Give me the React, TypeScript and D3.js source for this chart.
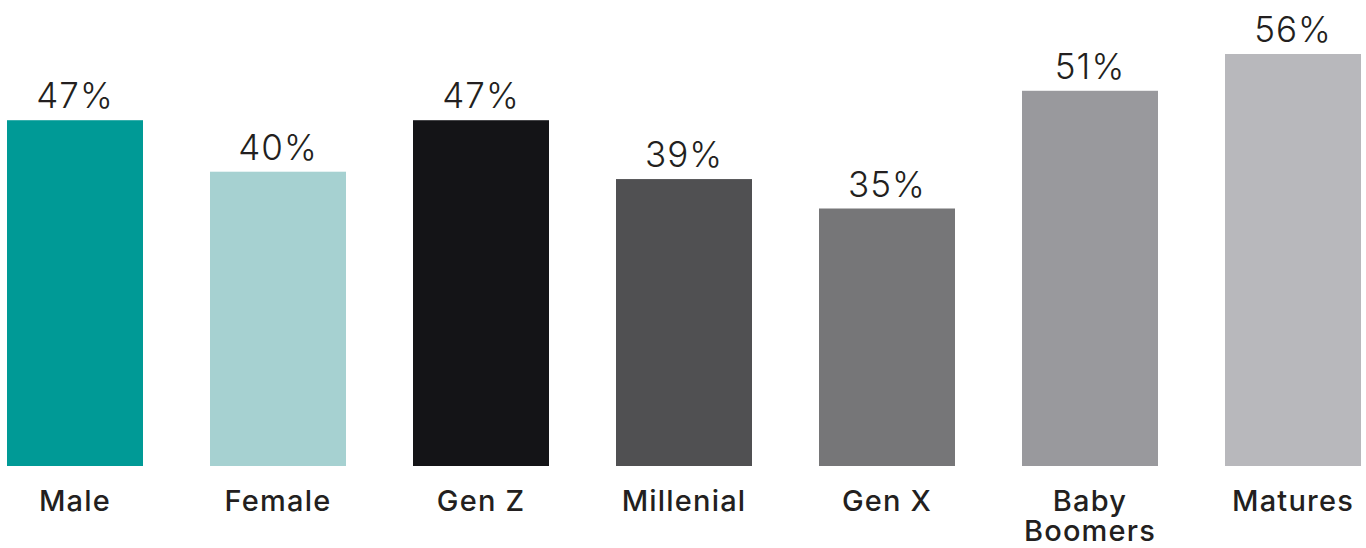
import React from "react";
import * as d3 from "d3";

const categories = ["Male", "Female", "Gen Z", "Millenial", "Gen X", "Baby Boomers", "Matures"];
const values = [47, 40, 47, 39, 35, 51, 56];
const colors = ["#009a96", "#a6d1d1", "#141417", "#505052", "#767678", "#99999d", "#b8b8bc"];
const labelLines = [["Male"], ["Female"], ["Gen Z"], ["Millenial"], ["Gen X"], ["Baby", "Boomers"], ["Matures"]];

const W = 1366;
const H = 548;

export default function App() {
  const x = d3.scaleBand<string>().domain(categories).range([7, 1361]).paddingInner(67 / 203).paddingOuter(0);
  const y = d3.scaleLinear().domain([0, 56]).range([466, 54]);
  const font = "Inter, 'Noto Sans', sans-serif";
  return (
    <svg width={W} height={H} style={{ position: "absolute", left: 0, top: 0, background: "#fff" }}>
      {categories.map((c, i) => {
        const bx = x(c)!;
        const cx = bx + x.bandwidth() / 2;
        return (
          <g key={c}>
            <rect x={bx} y={y(values[i])} width={x.bandwidth()} height={y(0) - y(values[i])} fill={colors[i]} />
            <text x={cx} y={y(values[i]) - 12} textAnchor="middle" fontFamily={font} fontWeight={300} fontSize={35} letterSpacing={1} fill="#231f20">
              {values[i]}%
            </text>
            <text x={cx} y={511} textAnchor="middle" fontFamily={font} fontWeight={500} fontSize={29} letterSpacing={1.2} fill="#231f20">
              {labelLines[i].map((ln, j) => (
                <tspan key={j} x={cx} dy={j === 0 ? 0 : 30}>
                  {ln}
                </tspan>
              ))}
            </text>
          </g>
        );
      })}
    </svg>
  );
}
